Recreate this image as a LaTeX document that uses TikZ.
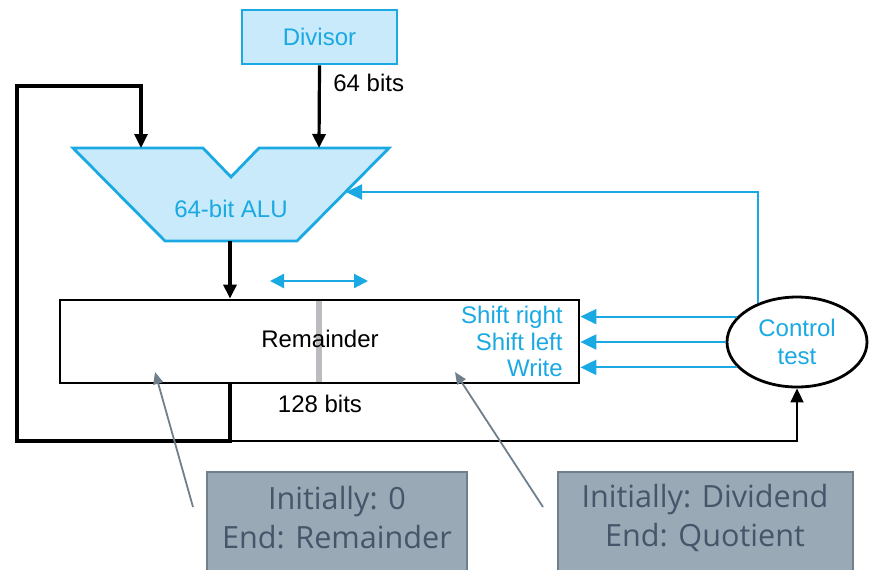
\documentclass[tikz,border=0pt]{standalone}
\usepackage{fontspec}
\setmainfont{Liberation Sans}
\newfontfamily\annotfont{Open Sans}
\usetikzlibrary{arrows.meta,shapes.geometric,calc}
\definecolor{cblue}{HTML}{1AA9E2}
\definecolor{cfill}{HTML}{C8EAFA}
\definecolor{agray}{HTML}{9AA9B6}
\definecolor{aedge}{HTML}{6F7F8C}
\definecolor{atext}{HTML}{45566A}
\definecolor{barg}{HTML}{BCBCC0}
\begin{document}
\begin{tikzpicture}[x=0.5pt,y=-0.5pt,
  lbl/.style={font=\fontsize{12}{14}\selectfont},
  bluelbl/.style={lbl,text=cblue},
  blk/.style={line width=1.6pt,black},
  blkarr/.style={blk,-{Triangle[length=7pt,width=6.5pt]}},
  bluearr/.style={line width=1.1pt,cblue,-{Triangle[length=8pt,width=7.5pt]}},
  bluedbl/.style={line width=1.1pt,cblue,{Triangle[length=7pt,width=7pt]}-{Triangle[length=7pt,width=7pt]}},
  annot/.style={draw=aedge,fill=agray,line width=0.8pt,inner sep=0pt},
  annottxt/.style={text=atext,font=\annotfont\fontsize{15.3}{19.5}\selectfont,align=center},
  annotarr/.style={draw=aedge,line width=0.9pt,-{Triangle[length=6pt,width=5pt]}}]
\useasboundingbox (0,0) rectangle (872,569);

% Divisor
\node[draw=cblue,fill=cfill,line width=1.4pt,minimum width=77.5pt,minimum height=27pt,inner sep=0pt,bluelbl] (div) at (319.5,37) {Divisor};
\node[lbl,anchor=west,inner sep=0pt] (b64) at (333,83) {64 bits};

% ALU
\draw[cblue,fill=cfill,line width=1.4pt] (73,148) -- (203,148) -- (231,177) -- (259,148) -- (389,148) -- (297,241) -- (165,241) -- cycle;
\node[bluelbl] (alu) at (231,209) {64-bit ALU};
\coordinate (aluIn1) at (141,148);
\coordinate (aluIn2) at (319,148);
\coordinate (aluOut) at (230,241);
\coordinate (aluR) at (346,192);

% Remainder register
\node[draw,line width=1.4pt,minimum width=259.5pt,minimum height=41.5pt,inner sep=0pt] (rem) at (319.5,341.5) {};
\fill[barg] (316,301) rectangle (322,382);
\node[lbl] (remtxt) at (320,339) {Remainder};
\node[lbl] (b128) at (320,404) {128 bits};
\node[bluelbl,anchor=east,inner sep=0pt] (sr) at (563,317) {Shift right};
\node[bluelbl,anchor=east,inner sep=0pt] (sl) at (563,342) {Shift left};
\node[bluelbl,anchor=east,inner sep=0pt] (wr) at (563,368) {Write};
\coordinate (dL) at (270,281);
\coordinate (dR) at (368,281);
\draw[bluedbl] (dL) -- (dR);

% Control
\node[draw,ellipse,line width=1.4pt,minimum width=70pt,minimum height=45pt,inner sep=0pt,bluelbl,align=center,fill=white] (ctrl) at (797,342) {Control\\[0pt]test};

% black data paths
\draw[blkarr] (div.south) -- (aluIn2);
\draw[blkarr] (aluOut) -- (aluOut |- rem.north);
\coordinate (fb) at (230,441);
\draw[blk,line join=miter] (fb |- rem.south) -- (fb) -- (17,441) -- (17,86) -- (141,86) -- ($(aluIn1)+(0,-12)$);
\draw[blkarr] (141,120) -- (aluIn1);
\draw[line width=0.9pt,-{Triangle[length=7pt,width=6.5pt]}] (fb) -| (ctrl.south);

% blue control paths
\draw[bluearr] (ctrl.157) -- (rem.east |- ctrl.157);
\draw[bluearr] (ctrl.west) -- (rem.east |- ctrl.west);
\draw[bluearr] (ctrl.203) -- (rem.east |- ctrl.203);
\draw[bluearr] (ctrl.135) |- (aluR);

% annotations
\node[annot,minimum width=130pt,minimum height=55pt,anchor=north] (a1) at (337,471) {};
\node[annottxt] (a1t) at (337,518) {Initially: 0\\End: Remainder};
\node[annot,minimum width=147.5pt,minimum height=55pt,anchor=north] (a2) at (705.5,471) {};
\node[annottxt] (a2t) at (705,518) {Initially: Dividend\\End: Quotient};
\coordinate (p1) at (193,507);
\coordinate (p2) at (543,507);
\draw[annotarr] (p1) -- (155,372);
\draw[annotarr] (p2) -- (455,372);
\end{tikzpicture}
\end{document}
